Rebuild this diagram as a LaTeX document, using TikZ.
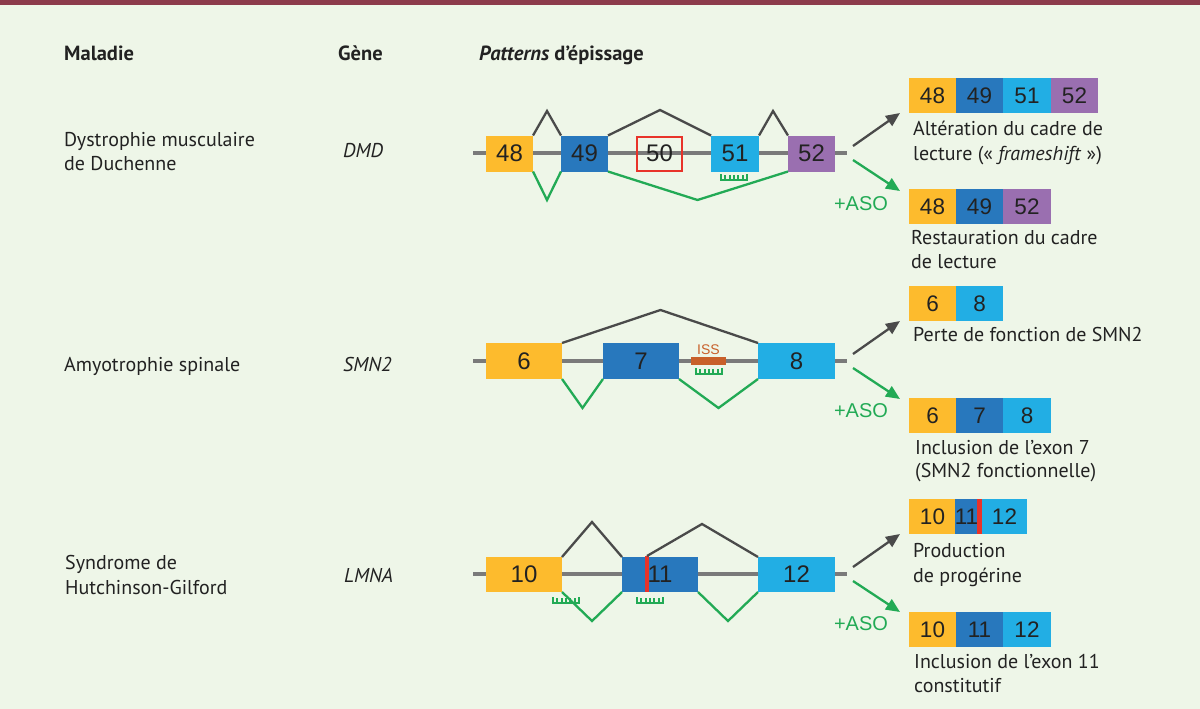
\documentclass[tikz,border=0pt]{standalone}
\usepackage{fontspec}
\setmainfont{PT Sans}
\newfontfamily\arialf{Liberation Sans}
\usetikzlibrary{arrows.meta}
\definecolor{bg}{HTML}{EEF6E8}
\definecolor{topbar}{HTML}{8C3B4B}
\definecolor{yel}{HTML}{FDBB2D}
\definecolor{dblue}{HTML}{2878BD}
\definecolor{lblue}{HTML}{22AEE4}
\definecolor{purp}{HTML}{9A6FB0}
\definecolor{grn}{HTML}{22AA55}
\definecolor{bbgray}{HTML}{7A7A7A}
\definecolor{arcgray}{HTML}{4A4A4A}
\definecolor{redl}{HTML}{E8332A}
\definecolor{issc}{HTML}{C8602A}
\definecolor{txt}{HTML}{222222}
\begin{document}
\begin{tikzpicture}[x=1pt,y=-1pt,
  exon/.style={rectangle, fill=#1, inner sep=0pt, outer sep=0pt, minimum height=36pt,
    font=\arialf\fontsize{24}{24}\selectfont, text=txt},
  rexon/.style={rectangle, fill=#1, inner sep=0pt, outer sep=0pt, minimum height=35pt, minimum width=47pt,
    font=\arialf\fontsize{22.5}{22.5}\selectfont, text=txt},
  backbone/.style={draw=bbgray, line width=4pt},
  skipline/.style={draw=arcgray, line width=2.3pt, line join=miter},
  asoline/.style={draw=grn, line width=2.3pt, line join=miter},
  body/.style={font=\fontsize{20}{24}\selectfont, text=txt, inner sep=0pt, anchor=base west},
  head/.style={font=\bfseries\fontsize{20.5}{24}\selectfont, text=txt, inner sep=0pt, anchor=base west},
  gene/.style={font=\itshape\fontsize{20}{24}\selectfont, text=txt, inner sep=0pt, anchor=base west},
  grayarrow/.style={draw=arcgray, line width=2.3pt, -{Triangle[length=14pt,width=12pt]}},
  greenarrow/.style={draw=grn, line width=2.3pt, -{Triangle[length=14pt,width=12pt]}},
  asolabel/.style={font=\arialf\fontsize{20}{20}\selectfont, text=grn, inner sep=0pt},
  comb/.pic={\draw[grn, line width=1.8pt] (0,-6) -- (0,0) -- (26,0) -- (26,-6)
     (4.33,0) -- (4.33,-5) (8.67,0) -- (8.67,-5) (13,0) -- (13,-5) (17.33,0) -- (17.33,-5) (21.67,0) -- (21.67,-5);}
]
\useasboundingbox (0,0) rectangle (1200,709);
\fill[bg] (0,0) rectangle (1200,709);
\fill[topbar] (0,0) rectangle (1200,5);

% headers
\node[head] (hmal) at (64,61) {Maladie};
\node[head] (hgen) at (338,61) {Gène};
\node[head] (hpat) at (479,61) {\textit{Patterns} d’épissage};

% left column
\node[body] (dmd1) at (64,146) {Dystrophie musculaire};
\node[body] (dmd2) at (64,170) {de Duchenne};
\node[gene] (gdmd) at (343,157) {DMD};
\node[body] (smn1) at (64,371) {Amyotrophie spinale};
\node[gene] (gsmn) at (343,371) {SMN2};
\node[body] (hgp1) at (65,569) {Syndrome de};
\node[body] (hgp2) at (65,594) {Hutchinson-Gilford};
\node[gene] (glmn) at (344,582) {LMNA};

%%%%%%%% DMD row
\coordinate (b1s) at (473,153);
\coordinate (b1e) at (847,153);
\draw[backbone] (b1s) -- (b1e);
\node[exon=yel, minimum width=47pt] (d48) at (509.5,153.5) {48};
\node[exon=dblue, minimum width=47pt] (d49) at (584.5,153.5) {49};
\node[rectangle, draw=redl, line width=2pt, inner sep=0pt, minimum width=45pt, minimum height=34pt,
  font=\arialf\fontsize{24}{24}\selectfont, text=txt] (d50) at (659.5,153.5) {50};
\node[exon=lblue, minimum width=48pt] (d51) at (735,153.5) {51};
\node[exon=purp, minimum width=47pt] (d52) at (811.5,153.5) {52};
\draw[skipline] (d48.north east) -- (547,111) -- (d49.north west);
\draw[skipline] (d49.north east) -- (660,110) -- (d51.north west);
\draw[skipline] (d51.north east) -- (773,111) -- (d52.north west);
\draw[asoline] (d48.south east) -- (547,200) -- (d49.south west);
\draw[asoline] (d49.south east) -- (697.5,200) -- (d52.south west);
\pic at (721,180) {comb};

\coordinate (a1s) at (853,146);
\coordinate (a1t) at (900,113);
\coordinate (a1g) at (853,160);
\coordinate (a1u) at (900,191);
\draw[grayarrow] (a1s) -- (a1t);
\draw[greenarrow] (a1g) -- (a1u);
\node[asolabel] (aso1) at (861,204) {+ASO};

\node[rexon=yel] (r1a) at (932.5,95.5) {48};
\node[rexon=dblue] (r1b) at (979.5,95.5) {49};
\node[rexon=lblue, minimum width=48pt] (r1c) at (1027,95.5) {51};
\node[rexon=purp] (r1d) at (1074.5,95.5) {52};
\node[body] (t1a) at (913,135) {Altération du cadre de};
\node[body] (t1b) at (913,160) {lecture (« \textit{frameshift} »)};

\node[rexon=yel] (r2a) at (932.5,206.5) {48};
\node[rexon=dblue] (r2b) at (979.5,206.5) {49};
\node[rexon=purp, minimum width=48pt] (r2c) at (1027,206.5) {52};
\node[body] (t2a) at (911,244) {Restauration du cadre};
\node[body] (t2b) at (911,268) {de lecture};

%%%%%%%% SMN2 row
\coordinate (b2s) at (473,361);
\coordinate (b2e) at (847,361);
\draw[backbone] (b2s) -- (b2e);
\node[exon=yel, minimum width=76pt] (s6) at (524,361) {6};
\node[exon=dblue, minimum width=76pt] (s7) at (641,361) {7};
\node[exon=lblue, minimum width=77pt] (s8) at (796.5,361) {8};
\node[rectangle, fill=issc, inner sep=0pt, minimum width=35pt, minimum height=8pt] (iss) at (708.5,361) {};
\node[font=\arialf\fontsize{14}{14}\selectfont, text=issc, inner sep=0pt, anchor=base] (isst) at (708.5,354) {ISS};
\pic at (696,374) {comb};
\draw[skipline] (s6.north east) -- (660.5,310) -- (s8.north west);
\draw[asoline] (s6.south east) -- (582.5,408) -- (s7.south west);
\draw[asoline] (s7.south east) -- (718.5,408) -- (s8.south west);

\coordinate (a2s) at (853,354);
\coordinate (a2t) at (900,321);
\coordinate (a2g) at (853,368);
\coordinate (a2u) at (900,399);
\draw[grayarrow] (a2s) -- (a2t);
\draw[greenarrow] (a2g) -- (a2u);
\node[asolabel] (aso2) at (861,411) {+ASO};

\node[rexon=yel] (r3a) at (932.5,303.5) {6};
\node[rexon=lblue] (r3b) at (979.5,303.5) {8};
\node[body] (t3a) at (913,341) {Perte de fonction de SMN2};

\node[rexon=yel] (r4a) at (932.5,415.5) {6};
\node[rexon=dblue] (r4b) at (979.5,415.5) {7};
\node[rexon=lblue, minimum width=48pt] (r4c) at (1027,415.5) {8};
\node[body] (t4a) at (915,454) {Inclusion de l’exon 7};
\node[body] (t4b) at (915,477) {(SMN2 fonctionnelle)};

%%%%%%%% LMNA row
\coordinate (b3s) at (473,574);
\coordinate (b3e) at (847,574);
\draw[backbone] (b3s) -- (b3e);
\node[exon=yel, minimum width=76pt, minimum height=35pt] (l10) at (524,574.5) {10};
\node[exon=dblue, minimum width=76pt, minimum height=35pt] (l11) at (660,574.5) {11};
\node[exon=lblue, minimum width=77pt, minimum height=35pt] (l12) at (796.5,574.5) {12};
\coordinate (mut) at (647,556);
\coordinate (mutb) at (647,592);
\draw[redl, line width=4pt] (mut) -- (mutb);
\draw[skipline] (l10.north east) -- (592,522) -- (l11.north west);
\draw[skipline] (mut) -- (702,524) -- (l12.north west);
\draw[asoline] (l10.south east) -- (592,621) -- (l11.south west);
\draw[asoline] (l11.south east) -- (728,621) -- (l12.south west);
\pic at (553,603) {comb};
\pic at (637,603) {comb};

\coordinate (a3s) at (853,567);
\coordinate (a3t) at (900,534);
\coordinate (a3g) at (853,581);
\coordinate (a3u) at (900,612);
\draw[grayarrow] (a3s) -- (a3t);
\draw[greenarrow] (a3g) -- (a3u);
\node[asolabel] (aso3) at (861,624) {+ASO};

\node[rexon=yel] (r5a) at (932.5,516.5) {10};
\node[rexon=dblue, minimum width=21pt] (r5b) at (966.5,516.5) {11};
\node[rexon=lblue, minimum width=45pt] (r5c) at (1004.5,516.5) {12};
\fill[redl] (977,499) rectangle (982,534);
\node[body] (t5a) at (913,557) {Production};
\node[body] (t5b) at (913,582) {de progérine};

\node[rexon=yel] (r6a) at (932.5,629.5) {10};
\node[rexon=dblue] (r6b) at (979.5,629.5) {11};
\node[rexon=lblue, minimum width=48pt] (r6c) at (1027,629.5) {12};
\node[body] (t6a) at (914,668) {Inclusion de l’exon 11};
\node[body] (t6b) at (914,692) {constitutif};
\end{tikzpicture}
\end{document}
